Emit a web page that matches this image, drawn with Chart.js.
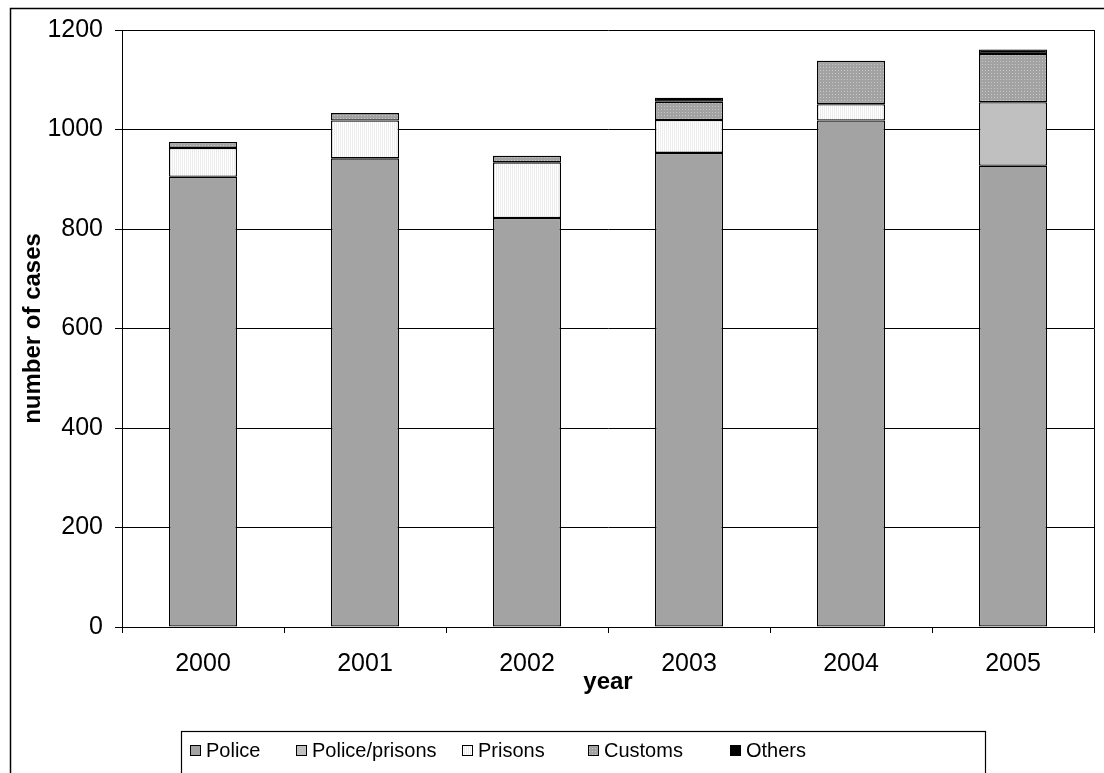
<!DOCTYPE html>
<html>
<head>
<meta charset="utf-8">
<script src="https://cdn.jsdelivr.net/npm/chart.js@4.4.1/dist/chart.umd.min.js"></script>
<style>
html,body{margin:0;padding:0;background:#fff;}
#wrap{width:1104px;height:773px;}
</style>
</head>
<body>
<div id="wrap"><canvas id="c" width="1104" height="773"></canvas></div>
<script>
const categories = ['2000','2001','2002','2003','2004','2005'];
const police        = [905, 942, 822, 953, 1018, 927];
const policePrisons = [0, 0, 0, 0, 0, 128];
const prisons       = [58, 76, 112, 66, 33, 0];
const customs       = [12, 15, 13, 37, 87, 97];
const others        = [0, 0, 0, 8, 0, 9];
const yTicks = [0, 200, 400, 600, 800, 1000, 1200];
const seriesNames = ['Police', 'Police/prisons', 'Prisons', 'Customs', 'Others'];

function makePattern(bg, fg, size, pts){
  const cv = document.createElement('canvas');
  cv.width = size; cv.height = size;
  const g = cv.getContext('2d');
  g.fillStyle = bg; g.fillRect(0,0,size,size);
  g.fillStyle = fg;
  pts.forEach(p => g.fillRect(p[0], p[1], 1, 1));
  return document.getElementById('c').getContext('2d').createPattern(cv, 'repeat');
}
const customsFill = makePattern('#a2a2a2', '#c8c8c8', 3, [[1,1]]);
const prisonsFill = makePattern('#ffffff', '#ececec', 2, [[0,0],[0,1]]);
const fills = ['#a3a3a3', '#c0c0c0', prisonsFill, customsFill, '#000000'];

const FONT = '"Liberation Sans", Arial, sans-serif';

const framePlugin = {
  id: 'frame',
  beforeDraw(chart){
    const ctx = chart.ctx;
    ctx.save(); ctx.fillStyle = '#fff'; ctx.fillRect(0,0,chart.width,chart.height); ctx.restore();
  },
  afterDraw(chart){
    const ctx = chart.ctx, a = chart.chartArea;
    ctx.save();
    ctx.strokeStyle = '#000'; ctx.lineWidth = 1.5;
    ctx.beginPath(); ctx.moveTo(10.5, 800); ctx.lineTo(10.5, 8.5); ctx.lineTo(1110, 8.5); ctx.stroke();
    ctx.lineWidth = 1;
    ctx.beginPath(); ctx.moveTo(Math.round(a.right)+0.5, a.top); ctx.lineTo(Math.round(a.right)+0.5, a.bottom); ctx.stroke();
    // legend box
    ctx.lineWidth = 1.2;
    ctx.strokeRect(181.5, 731.5, 804, 60);
    const xs = [190, 296, 462, 588, 730];
    ctx.font = '20px ' + FONT;
    ctx.textBaseline = 'middle';
    seriesNames.forEach((n, i) => {
      ctx.fillStyle = fills[i];
      ctx.fillRect(xs[i], 745, 11, 11);
      ctx.strokeStyle = '#000'; ctx.lineWidth = 1;
      ctx.strokeRect(xs[i]+0.5, 745.5, 10, 10);
      ctx.fillStyle = '#000';
      ctx.fillText(n, xs[i] + 16, 751);
    });
    ctx.restore();
  }
};

const datasets = [police, policePrisons, prisons, customs, others].map((d, i) => ({
  label: seriesNames[i],
  data: d,
  backgroundColor: fills[i],
  borderColor: '#000',
  borderWidth: c => (c.raw ? 1.3 : 0),
  borderSkipped: false,
  barPercentage: 0.42,
  categoryPercentage: 1.0
}));

new Chart(document.getElementById('c'), {
  type: 'bar',
  data: { labels: categories, datasets },
  options: {
    responsive: false,
    animation: false,
    devicePixelRatio: 1,
    layout: { padding: { left: 19, top: 30, right: 10, bottom: 76 } },
    plugins: { legend: { display: false }, tooltip: { enabled: false } },
    scales: {
      x: {
        stacked: true,
        grid: { display: true, drawOnChartArea: false, drawTicks: true, tickLength: 6, color: '#000', offset: true },
        border: { display: true, color: '#000', width: 1 },
        ticks: { color: '#000', font: { family: FONT, size: 25 }, padding: 16, maxRotation: 0 },
        title: { display: true, text: 'year', color: '#000', font: { family: FONT, size: 24, weight: 'bold' }, padding: 0 },
        afterFit(s){ s.height = 70; }
      },
      y: {
        stacked: true,
        min: 0, max: 1200,
        afterBuildTicks(s){ s.ticks = yTicks.map(v => ({ value: v })); },
        grid: { color: '#000', lineWidth: 1, drawTicks: true, tickLength: 7 },
        border: { display: true, color: '#000', width: 1 },
        ticks: { color: '#000', font: { family: FONT, size: 25 }, padding: 12, callback: v => String(v) },
        title: { display: true, text: 'number of cases', color: '#000', font: { family: FONT, size: 24, weight: 'bold' }, padding: 0 },
        afterFit(s){ s.width = 103; }
      }
    }
  },
  plugins: [framePlugin]
});
</script>
</body>
</html>
